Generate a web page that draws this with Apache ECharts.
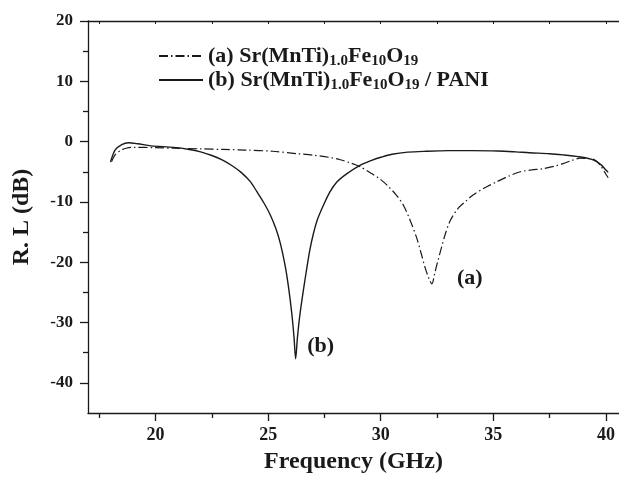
<!DOCTYPE html>
<html>
<head>
<meta charset="utf-8">
<script src="https://cdn.jsdelivr.net/npm/echarts@6/dist/echarts.min.js"></script>
<style>
html, body { margin: 0; padding: 0; background: #fff; }
#rlChart { width: 619px; height: 479px; }
</style>
</head>
<body>
<div id="rlChart"></div>
<script>
// 数据 (a) Sr(MnTi)1.0Fe10O19
var freqA = [18.05, 18.2, 18.45, 18.7, 19.0, 20.0, 20.8, 22.0, 23.0, 24.0, 25.2, 26.3, 27.0, 27.7, 28.2, 28.7, 29.1, 29.6, 30.0, 30.3, 30.7, 31.0, 31.3, 31.6, 31.8, 31.97, 32.15, 32.27, 32.4, 32.5, 32.68, 32.86, 33.1, 33.45, 33.8, 34.1, 34.6, 35.15, 35.7, 36.2, 36.7, 37.2, 37.7, 38.1, 38.5, 38.85, 39.2, 39.45, 39.65, 39.8, 39.95, 40.1];
var rlA = [-3.3, -2.2, -1.45, -1.1, -0.95, -1.0, -1.1, -1.2, -1.3, -1.4, -1.6, -2.0, -2.25, -2.6, -3.0, -3.6, -4.2, -5.3, -6.3, -7.3, -8.9, -10.5, -13, -16, -18.6, -20.9, -22.8, -23.6, -21.8, -20.3, -17.8, -15.4, -13, -11.0, -9.8, -8.85, -7.7, -6.66, -5.7, -5.0, -4.7, -4.5, -4.1, -3.66, -3.1, -2.75, -2.8, -2.95, -3.5, -4.2, -5.1, -6.0];

// 数据 (b) Sr(MnTi)1.0Fe10O19 / PANI
var freqB = [18.0, 18.2, 18.5, 18.8, 19.2, 19.8, 20.8, 21.5, 22.0, 22.5, 23.0, 23.4, 23.8, 24.2, 24.5, 24.8, 25.1, 25.35, 25.55, 25.75, 25.9, 26.05, 26.15, 26.22, 26.3, 26.4, 26.55, 26.72, 26.85, 27.0, 27.2, 27.46, 27.75, 28.05, 28.5, 29.1, 29.6, 30.0, 30.5, 31.2, 32.0, 33.0, 34.0, 35.2, 36.0, 36.6, 37.5, 38.1, 38.8, 39.3, 39.6, 39.8, 40.0, 40.1];
var rlB = [-3.4, -1.4, -0.5, -0.2, -0.35, -0.7, -0.95, -1.3, -1.7, -2.3, -3.1, -4.0, -5.1, -6.6, -8.3, -10.1, -12.2, -14.5, -17.0, -20.5, -24, -28.5, -32.5, -36.0, -32.5, -29, -25, -20.9, -18, -15.4, -12.8, -10.5, -8.3, -6.7, -5.3, -3.9, -3.1, -2.6, -2.1, -1.75, -1.6, -1.5, -1.5, -1.55, -1.7, -1.85, -2.0, -2.2, -2.5, -2.85, -3.3, -3.9, -4.7, -5.1];

// 刻度
var xMajor = [20, 25, 30, 35, 40];
var xMinor = [17.5, 22.5, 27.5, 32.5, 37.5];
var xTop = [17.5, 20, 22.5, 25, 27.5, 30, 32.5, 35, 37.5, 40];
var yMajor = [20, 10, 0, -10, -20, -30, -40];
var yMinor = [15, 5, -5, -15, -25, -35];

var nameA = '(a) Sr(MnTi)1.0Fe10O19';
var nameB = '(b) Sr(MnTi)1.0Fe10O19 / PANI';

function pairs(xs, ys) {
	var out = [];
	for (var i = 0; i < xs.length; i++) {
		out.push([xs[i], ys[i]]);
	}
	return out;
}

var font = 'Liberation Serif';
var ink = '#1a1a1a';

var rlChart = echarts.init(document.getElementById('rlChart'));

var axisBase = {
	type: 'value',
	min: 17,
	max: 40.58,
	splitLine: {show: false},
	axisLine: {onZero: false, lineStyle: {color: ink, width: 1.3}}
};

var option = {
	animation: false,
	backgroundColor: '#fff',
	grid: {left: 88, top: 21, right: 0, bottom: 62, containLabel: false},
	legend: {
		orient: 'vertical',
		left: 153,
		top: 40,
		itemWidth: 44,
		itemHeight: 14,
		itemGap: 0,
		itemStyle: {opacity: 0},
		data: [nameA, nameB],
		formatter: function (name) {
			if (name === nameA) {
				return '{t|(a) Sr(MnTi)}{s|1.0}{t|Fe}{s|10}{t|O}{s|19}';
			}
			return '{t|(b) Sr(MnTi)}{s|1.0}{t|Fe}{s|10}{t|O}{s|19}{t| / PANI}';
		},
		textStyle: {
			rich: {
				t: {fontFamily: font, fontWeight: 'bold', fontSize: 22, color: ink, lineHeight: 26},
				s: {fontFamily: font, fontWeight: 'bold', fontSize: 15, color: ink, lineHeight: 14, verticalAlign: 'bottom'}
			}
		}
	},
	xAxis: [
		echarts.util.merge({
			position: 'bottom',
			name: 'Frequency (GHz)',
			nameLocation: 'middle',
			nameGap: 37,
			nameTextStyle: {fontFamily: font, fontWeight: 'bold', fontSize: 24, color: ink},
			axisTick: {show: true, inside: false, length: 8, customValues: xMajor, lineStyle: {color: ink, width: 1.3}},
			axisLabel: {customValues: xMajor, margin: 13, fontFamily: font, fontWeight: 'bold', fontSize: 18, color: ink}
		}, axisBase, false),
		echarts.util.merge({
			position: 'bottom',
			axisLine: {show: false, onZero: false},
			axisTick: {show: true, inside: false, length: 5, customValues: xMinor, lineStyle: {color: ink, width: 1.3}},
			axisLabel: {show: false}
		}, axisBase, false),
		echarts.util.merge({
			position: 'top',
			axisTick: {show: true, inside: true, length: 3, customValues: xTop, lineStyle: {color: ink, width: 1}},
			axisLabel: {show: false}
		}, axisBase, false)
	],
	yAxis: [
		{
			type: 'value',
			position: 'left',
			min: -45,
			max: 20,
			name: 'R. L (dB)',
			nameLocation: 'middle',
			nameRotate: 90,
			nameGap: 54,
			nameTextStyle: {fontFamily: font, fontWeight: 'bold', fontSize: 24, color: ink},
			splitLine: {show: false},
			axisLine: {onZero: false, lineStyle: {color: ink, width: 1.3}},
			axisTick: {show: true, inside: false, length: 8, customValues: yMajor, lineStyle: {color: ink, width: 1.3}},
			axisLabel: {customValues: yMajor, margin: 15, fontFamily: font, fontWeight: 'bold', fontSize: 17, color: ink}
		},
		{
			type: 'value',
			position: 'left',
			min: -45,
			max: 20,
			splitLine: {show: false},
			axisLine: {show: false, onZero: false},
			axisTick: {show: true, inside: false, length: 5, customValues: yMinor, lineStyle: {color: ink, width: 1.3}},
			axisLabel: {show: false}
		}
	],
	series: [
		{
			name: nameA,
			type: 'line',
			xAxisIndex: 0,
			yAxisIndex: 0,
			data: pairs(freqA, rlA),
			showSymbol: false,
			symbol: 'none',
			smooth: 0.3,
			lineStyle: {color: ink, width: 1.2, type: [9, 3, 1.5, 3]},
			itemStyle: {color: ink},
			markPoint: {
				symbolSize: 1,
				itemStyle: {color: 'rgba(0,0,0,0)'},
				label: {show: true, formatter: '(a)', offset: [38, -5], fontFamily: font, fontWeight: 'bold', fontSize: 22, color: ink},
				data: [{type: 'min'}]
			}
		},
		{
			name: nameB,
			type: 'line',
			xAxisIndex: 0,
			yAxisIndex: 0,
			data: pairs(freqB, rlB),
			showSymbol: false,
			symbol: 'none',
			smooth: 0.3,
			lineStyle: {color: ink, width: 1.4},
			itemStyle: {color: ink},
			markPoint: {
				symbolSize: 1,
				itemStyle: {color: 'rgba(0,0,0,0)'},
				label: {show: true, formatter: '(b)', offset: [25, -12], fontFamily: font, fontWeight: 'bold', fontSize: 22, color: ink},
				data: [{type: 'min'}]
			}
		}
	]
};

rlChart.setOption(option);
</script>
</body>
</html>
